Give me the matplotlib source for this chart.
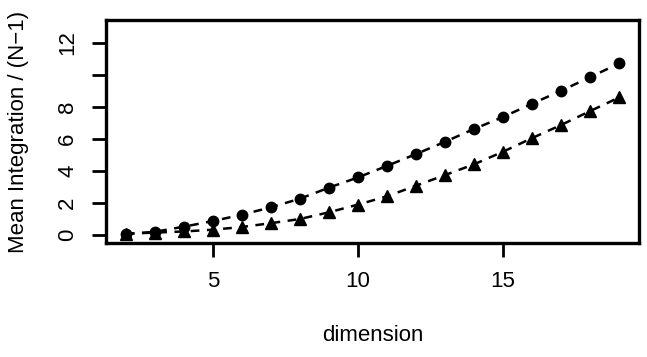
import numpy as np
import matplotlib
matplotlib.use("Agg")
from matplotlib import pyplot as plt

# data
dimension = [2, 3, 4, 5, 6, 7, 8, 9, 10, 11, 12, 13, 14, 15, 16, 17, 18, 19]
circles = [0.06, 0.2, 0.52, 0.87, 1.27, 1.73, 2.27, 2.96, 3.6, 4.32,
           5.06, 5.83, 6.63, 7.38, 8.21, 9.02, 9.87, 10.73]
triangles = [0.08, 0.15, 0.22, 0.33, 0.5, 0.74, 1.0, 1.42, 1.9, 2.42,
             3.08, 3.75, 4.42, 5.21, 6.06, 6.88, 7.75, 8.6]
y_ticks = [0, 2, 4, 6, 8, 10, 12]
y_labels = ["0", "2", "4", "6", "8", "", "12"]
x_ticks = [5, 10, 15]

plt.rcParams['font.family'] = ['Liberation Sans', 'DejaVu Sans']

fig = plt.figure(figsize=(6.47, 3.57), dpi=100)
ax = fig.add_axes([106/647, 1 - 243/357, (639 - 106)/647, (243 - 20)/357])

# dashed lines with markers, R style
ax.plot(dimension, circles, color='black', lw=1.8, ls=(0, (3.5, 3)),
        marker='o', ms=7.5)
ax.plot(dimension, triangles, color='black', lw=1.8, ls=(0, (3.5, 3)),
        marker='^', ms=8.5)

ax.set_xlim(1.32, 19.68)
ax.set_ylim(-0.5, 13.44)

ax.set_xticks(x_ticks)
ax.set_yticks(y_ticks)
ax.set_yticklabels(y_labels, rotation=90, va='center')
ax.tick_params(axis='both', direction='out', length=10, width=2,
               labelsize=16, pad=10)

for sp in ax.spines.values():
    sp.set_linewidth(2.4)

ax.set_xlabel('dimension', fontsize=16, labelpad=24)
ax.set_ylabel('Mean Integration / (N\u22121)', fontsize=16, labelpad=20)

fig.savefig('out.png', dpi=100)
